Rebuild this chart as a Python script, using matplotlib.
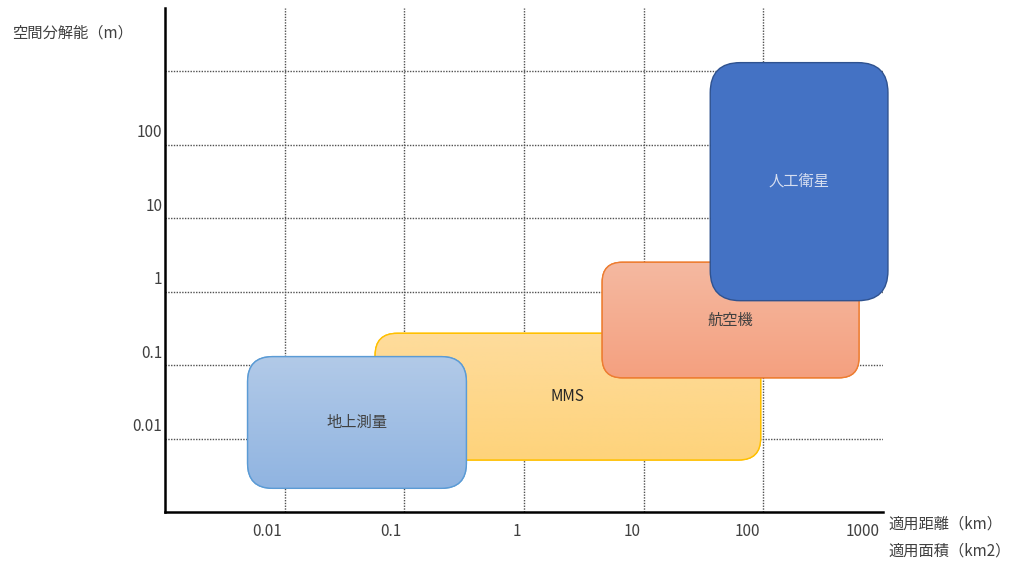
import numpy as np
import matplotlib
matplotlib.use("Agg")
import matplotlib.pyplot as plt
from matplotlib.patches import FancyBboxPatch
from matplotlib.colors import LinearSegmentedColormap
from matplotlib.transforms import ScaledTranslation

plt.rcParams['font.family'] = ['Noto Sans CJK JP', 'DejaVu Sans']

# Survey methods: applicable range (km / km2) and spatial resolution (m)
methods = ["地上測量", "MMS", "航空機", "人工衛星"]
range_min = [0.0049, 0.057, 4.5, 36]
range_max = [0.33, 95, 630, 1100]
resolution_min = [0.0021, 0.0051, 0.067, 0.75]
resolution_max = [0.13, 0.27, 2.5, 1300]

x_ticks = [0.01, 0.1, 1, 10, 100, 1000]
x_tick_labels = ["0.01", "0.1", "1", "10", "100", "1000"]
y_ticks = [0.01, 0.1, 1, 10, 100, 1000]
y_tick_labels = ["0.01", "0.1", "1", "10", "100", ""]

# fill colours (top, bottom of gradient), edge colour, text colour,
# corner radius (px) and stacking order
fill_top = ["#B2CAE8", "#FEDC9C", "#F5B9A1", "#4472C4"]
fill_bottom = ["#90B4E1", "#FED37B", "#F4A07F", "#4472C4"]
edge_colors = ["#5B9BD5", "#FFC000", "#ED7D31", "#2F528F"]
text_colors = ["#404040", "#262626", "#404040", "#D6DEF0"]
radii_px = [25, 22, 20, 30]
layers = [4, 3, 5, 6]

W, H = 1010, 562
fig = plt.figure(figsize=(W / 100, H / 100), dpi=100)
ax_w, ax_h = 718, 504
ax = fig.add_axes([165 / W, 50 / H, ax_w / W, ax_h / H])
ax.set_xscale("log")
ax.set_yscale("log")
ax.set_xlim(0.001, 1000)
ax.set_ylim(0.001, 7200)
ax.set_autoscale_on(False)

# grid and axes styling
ax.set_axisbelow(True)
ax.set_xticks(x_ticks)
ax.set_xticklabels(x_tick_labels)
ax.set_yticks(y_ticks)
ax.set_yticklabels(y_tick_labels)
ax.minorticks_off()
ax.grid(True, which="major", color="#505050", linewidth=1.0,
        linestyle=(0, (1, 1)))
ax.xaxis.get_gridlines()[-1].set_visible(False)
for side in ("top", "right"):
    ax.spines[side].set_visible(False)
for side in ("left", "bottom"):
    ax.spines[side].set_linewidth(1.8)
    ax.spines[side].set_color("black")
ax.tick_params(axis="both", length=0, labelsize=11, colors="#404040")
ax.tick_params(axis="x", pad=8)
ax.tick_params(axis="y", pad=2)

for lab in ax.get_xticklabels():
    lab.set_horizontalalignment("right")
    lab.set_transform(lab.get_transform() +
                      ScaledTranslation(-3 / 100, 0, fig.dpi_scale_trans))
for lab in ax.get_yticklabels():
    lab.set_transform(lab.get_transform() +
                      ScaledTranslation(0, 14 / 100, fig.dpi_scale_trans))

to_axes = ax.transScale + ax.transLimits

for i, name in enumerate(methods):
    (x0, y0) = to_axes.transform((range_min[i], resolution_min[i]))
    (x1, y1) = to_axes.transform((range_max[i], resolution_max[i]))
    r = radii_px[i] / ax_w
    z = layers[i]
    box = FancyBboxPatch((x0, y0), x1 - x0, y1 - y0,
                         boxstyle=f"round,pad=0,rounding_size={r}",
                         mutation_aspect=ax_w / ax_h,
                         transform=ax.transAxes, facecolor=fill_top[i],
                         edgecolor=edge_colors[i], linewidth=1.0,
                         zorder=z, clip_on=False)
    ax.add_patch(box)
    if fill_top[i] != fill_bottom[i]:
        cmap = LinearSegmentedColormap.from_list(
            f"grad{i}", [fill_top[i], fill_bottom[i]])
        grad = np.linspace(0, 1, 256).reshape(-1, 1)
        im = ax.imshow(grad, cmap=cmap, extent=(x0, x1, y0, y1),
                       origin="upper", transform=ax.transAxes,
                       aspect="auto", interpolation="bilinear",
                       zorder=z + 0.1)
        im.set_clip_path(box)
        edge = FancyBboxPatch((x0, y0), x1 - x0, y1 - y0,
                              boxstyle=f"round,pad=0,rounding_size={r}",
                              mutation_aspect=ax_w / ax_h,
                              transform=ax.transAxes, facecolor="none",
                              edgecolor=edge_colors[i], linewidth=1.0,
                              zorder=z + 0.2, clip_on=False)
        ax.add_patch(edge)
    ax.text((x0 + x1) / 2, (y0 + y1) / 2, name, transform=ax.transAxes,
            ha="center", va="center", fontsize=11, color=text_colors[i],
            zorder=z + 0.5)

ax.set_xlim(0.001, 1000)
ax.set_ylim(0.001, 7200)

fig.text(12 / W, 1 - 33 / H, "空間分解能（m）", ha="left", va="center",
         fontsize=11, color="#404040")
fig.text(888 / W, 1 - 524 / H, "適用距離（km）", ha="left", va="center",
         fontsize=11, color="#404040")
fig.text(888 / W, 1 - 551 / H, "適用面積（km2）", ha="left", va="center",
         fontsize=11, color="#404040")

fig.savefig("out.png", dpi=100)
